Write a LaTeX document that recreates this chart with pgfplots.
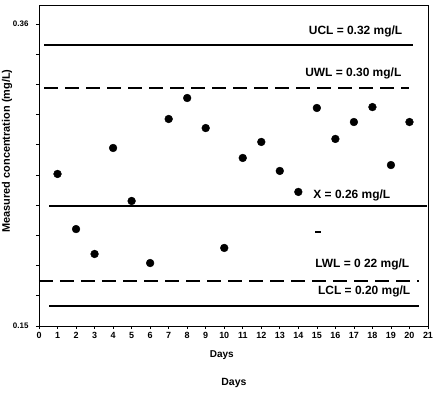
\documentclass[border=0pt]{standalone}
\usepackage{pgfplots}
\pgfplotsset{compat=1.18}
\usepackage{fontspec}
\setmainfont{Liberation Sans}
\begin{document}
\begin{tikzpicture}
\begin{axis}[
  scale only axis, width=389bp, height=321bp,
  at={(0,0)}, anchor=south west,
  xmin=0, xmax=21, ymin=0.16, ymax=0.3726,
  xtick={0,1,...,21},
  ytick={0.16,0.18,0.20,0.22,0.24,0.26,0.28,0.30,0.32,0.34,0.36},
  yticklabels={0.15,{},{},{},{},{},{},{},{},{},0.36},
  tick align=outside, xtick pos=bottom, ytick pos=left,
  major tick length=3bp,
  tick style={black, line width=0.7pt},
  axis line style={line width=0.9pt},
  x tick label style={font=\fontsize{9}{10}\selectfont\bfseries},
  y tick label style={font=\fontsize{8}{9}\selectfont\bfseries, xshift=-4bp},
  /pgf/number format/assume math mode=true,
  clip=false,
]
% control lines
\addplot[black, line width=1.4pt] coordinates {(0.27,0.3461) (20.2,0.3461)};
\addplot[black, line width=1.4pt, dash pattern=on 14bp off 7bp] coordinates {(0.27,0.3176) (20.0,0.3176)};
\addplot[black, line width=1.4pt] coordinates {(0.54,0.2395) (20.95,0.2395)};
\addplot[black, line width=1.4pt, dash pattern=on 14bp off 7bp] coordinates {(0.0,0.1899) (20.5,0.1899)};
\addplot[black, line width=1.4pt] coordinates {(0.54,0.1733) (20.5,0.1733)};
% measurements
\addplot[only marks, mark=*, mark size=3.9bp, black] coordinates {
(1,0.2607) (2,0.2242) (3,0.2077) (4,0.2779) (5,0.2428) (6,0.2017)
(7,0.2971) (8,0.3110) (9,0.2911) (10,0.2117) (11,0.2713) (12,0.2819)
(13,0.2627) (14,0.2488) (15,0.3044) (16,0.2839) (17,0.2951) (18,0.3050)
(19,0.2666) (20,0.2951)};
\addplot[only marks, mark=-, mark size=3bp, black, line width=1.8pt] coordinates {(15.05,0.2223)};
% labels
\tikzset{lbl/.style={anchor=east, inner sep=0pt, font=\fontsize{12}{14}\selectfont\bfseries}}
\node[lbl] at (axis cs:19.62,0.3554) {UCL = 0.32 mg/L};
\node[lbl] at (axis cs:19.57,0.3276) {UWL = 0.30 mg/L};
\node[lbl] at (axis cs:18.97,0.2468) {X = 0.26 mg/L};
\node[lbl] at (axis cs:20.0,0.2005) {LWL = 0 22 mg/L};
\node[lbl] at (axis cs:20.05,0.1826) {LCL = 0.20 mg/L};
\node[font=\fontsize{10}{11}\selectfont\bfseries] at (rel axis cs:0.470,-0.090) {Days};
\node[font=\fontsize{10.5}{12}\selectfont\bfseries] at (rel axis cs:0.501,-0.178) {Days};
\node[rotate=90, font=\fontsize{11}{13}\selectfont\bfseries] at (rel axis cs:-0.082,0.545) {Measured concentration (mg/L)};
\end{axis}
\pgfresetboundingbox
\path (-39bp,-73bp) rectangle (396bp,326bp);
\end{tikzpicture}
\end{document}
